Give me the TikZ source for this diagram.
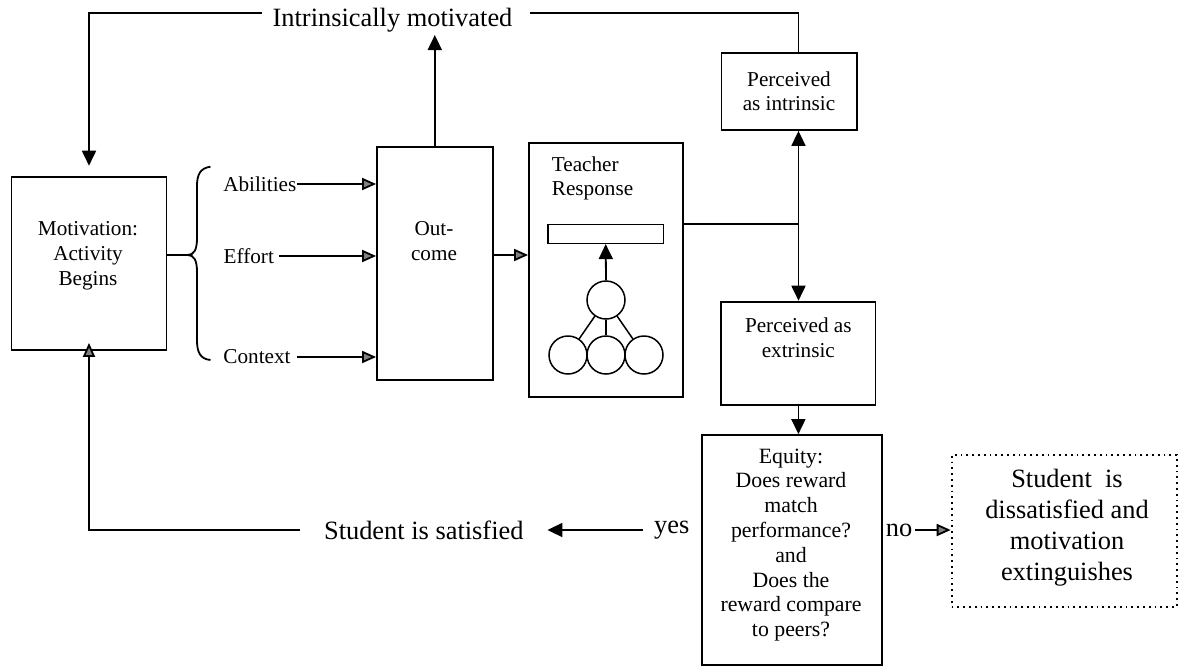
\documentclass[tikz,border=0pt]{standalone}
\usepackage{fontspec}
\setmainfont{Liberation Serif}
\usetikzlibrary{arrows.meta}

\newcommand{\piccolo}{\fontsize{10.6}{12.4}\selectfont}
\newcommand{\grande}{\fontsize{13.2}{15.5}\selectfont}

\begin{document}
\begin{tikzpicture}[x=0.5pt,y=-0.5pt,line width=0.9pt,
    box/.style={draw,rectangle,inner sep=0pt},
    testo/.style={align=center,inner sep=0pt,font=\piccolo},
    titolo/.style={align=center,inner sep=0pt,font=\grande},
    nera/.style={-{Triangle[length=7.5pt,width=7pt]}},
    doppia/.style={{Triangle[length=7.5pt,width=7pt]}-{Triangle[length=7.5pt,width=7pt]}},
    grigia/.style={-{Triangle[length=7pt,width=6pt,fill=gray]}},
    cerchio/.style={draw,circle,minimum size=19pt,inner sep=0pt,line width=0.75pt}]
    \useasboundingbox (0,0) rectangle (1180,666);

    %riquadri
    \node[box,minimum width=77.5pt,minimum height=86.7pt] (motiv) at (89,263.3) {};
    \node[testo] (motivtxt) at (88,256) {Motivation:\\Activity\\Begins};
    \node[box,minimum width=57.8pt,minimum height=116.7pt] (outcome) at (434.8,263.3) {};
    \node[testo] (outtxt) at (434,241) {Out-\\come};
    \node[box,minimum width=77pt,minimum height=127pt] (teacher) at (606,270) {};
    \node[testo,align=left,anchor=west] (teachtxt) at (551,178.3) {Teacher\\Response};
    \node[box,font=\piccolo,align=center,minimum width=67.6pt,minimum height=38.7pt] (pint) at (789,91.3) {Perceived\\as intrinsic};
    \node[box,minimum width=77.1pt,minimum height=51.7pt] (pext) at (798.4,353.3) {};
    \node[testo] (pexttxt) at (798.3,338) {Perceived as\\extrinsic};
    \node[box,minimum width=90pt,minimum height=115pt] (equity) at (791.6,550) {};
    \node[testo,font=\fontsize{10.9}{12.4}\selectfont] (eqtxt) at (791,545) {Equity:\\Does reward\\match\\performance?\\and\\Does the\\reward compare\\to peers?};
    \node[box,dotted,minimum width=112.7pt,minimum height=75.8pt] (dissat) at (1064.3,530.8) {};
    \node[titolo] (dissattxt) at (1067,527.5) {Student\ \ is\\dissatisfied and\\motivation\\extinguishes};

    %dentro teacher
    \node[box,line width=0.75pt,minimum width=57.9pt,minimum height=9.5pt] (bar) at (605.7,233.8) {};
    \node[cerchio] (ctop) at (606,300) {};
    \node[cerchio] (cleft) at (568,355) {};
    \node[cerchio] (cmid) at (606,355) {};
    \node[cerchio] (cright) at (644,355) {};
    \draw[line width=0.75pt] (ctop) -- (cleft);
    \draw[line width=0.75pt] (ctop) -- (cmid);
    \draw[line width=0.75pt] (ctop) -- (cright);
    \draw[nera] (ctop.north) -- (bar.south);

    %testi
    \node[titolo] (intrins) at (392.5,20) {Intrinsically motivated};
    \node[titolo] (satisf) at (423.8,530) {Student is satisfied};
    \node[titolo] (yes) at (671.7,530) {yes};
    \node[titolo] (no) at (899,530) {no};
    \node[testo] (abil) at (259.8,184) {Abilities};
    \node[testo] (effort) at (248.8,256) {Effort};
    \node[testo] (context) at (257,357) {Context};

    %graffa
    \coordinate (braceTip) at (187.5,255);
    \draw (motiv.east |- braceTip) -- (braceTip);
    \draw (210.5,166.7) .. controls (200,168) and (197,175) .. (197,186) -- (197,238)
        .. controls (197,250) and (194,255) .. (braceTip)
        .. controls (194,255) and (197,260) .. (197,272) -- (197,340)
        .. controls (197,352) and (200,359) .. (210.5,360);

    %frecce
    \draw[grigia] (abil.east) -- (abil.east -| outcome.west);
    \draw[grigia] ([xshift=2pt]effort.east) -- (effort.east -| outcome.west);
    \draw[grigia] ([xshift=3pt]context.east) -- (context.east -| outcome.west);
    \draw[grigia] (outcome.east |- braceTip) -- (teacher.west |- braceTip);
    \coordinate (cima) at (434.8,35);
    \draw[nera] (outcome.north) -- (cima);

    %giro in alto
    \coordinate (topsx) at (262,13.3);
    \coordinate (topdx) at (530,13.3);
    \coordinate (junc) at (798.5,224);
    \draw[nera] (topsx) -| ([yshift=5pt]motiv.north);
    \draw (topdx) -| (pint.north -| junc);
    \draw (teacher.east |- junc) -- (junc);
    \draw[doppia] (pint.south -| junc) -- (pext.north -| junc);
    \draw[nera] (pext.south) -- (pext.south |- equity.north);

    %giro in basso
    \draw[nera] ([xshift=-5pt]yes.west) -- ([xshift=11.5pt]satisf.east);
    \draw[grigia,shorten >=-4pt] ([xshift=-11.5pt]satisf.west) -| (motiv.south);
    \draw[grigia] ([xshift=1pt]no.east) -- (no.east -| dissat.west);

    \end{tikzpicture}
\end{document}
